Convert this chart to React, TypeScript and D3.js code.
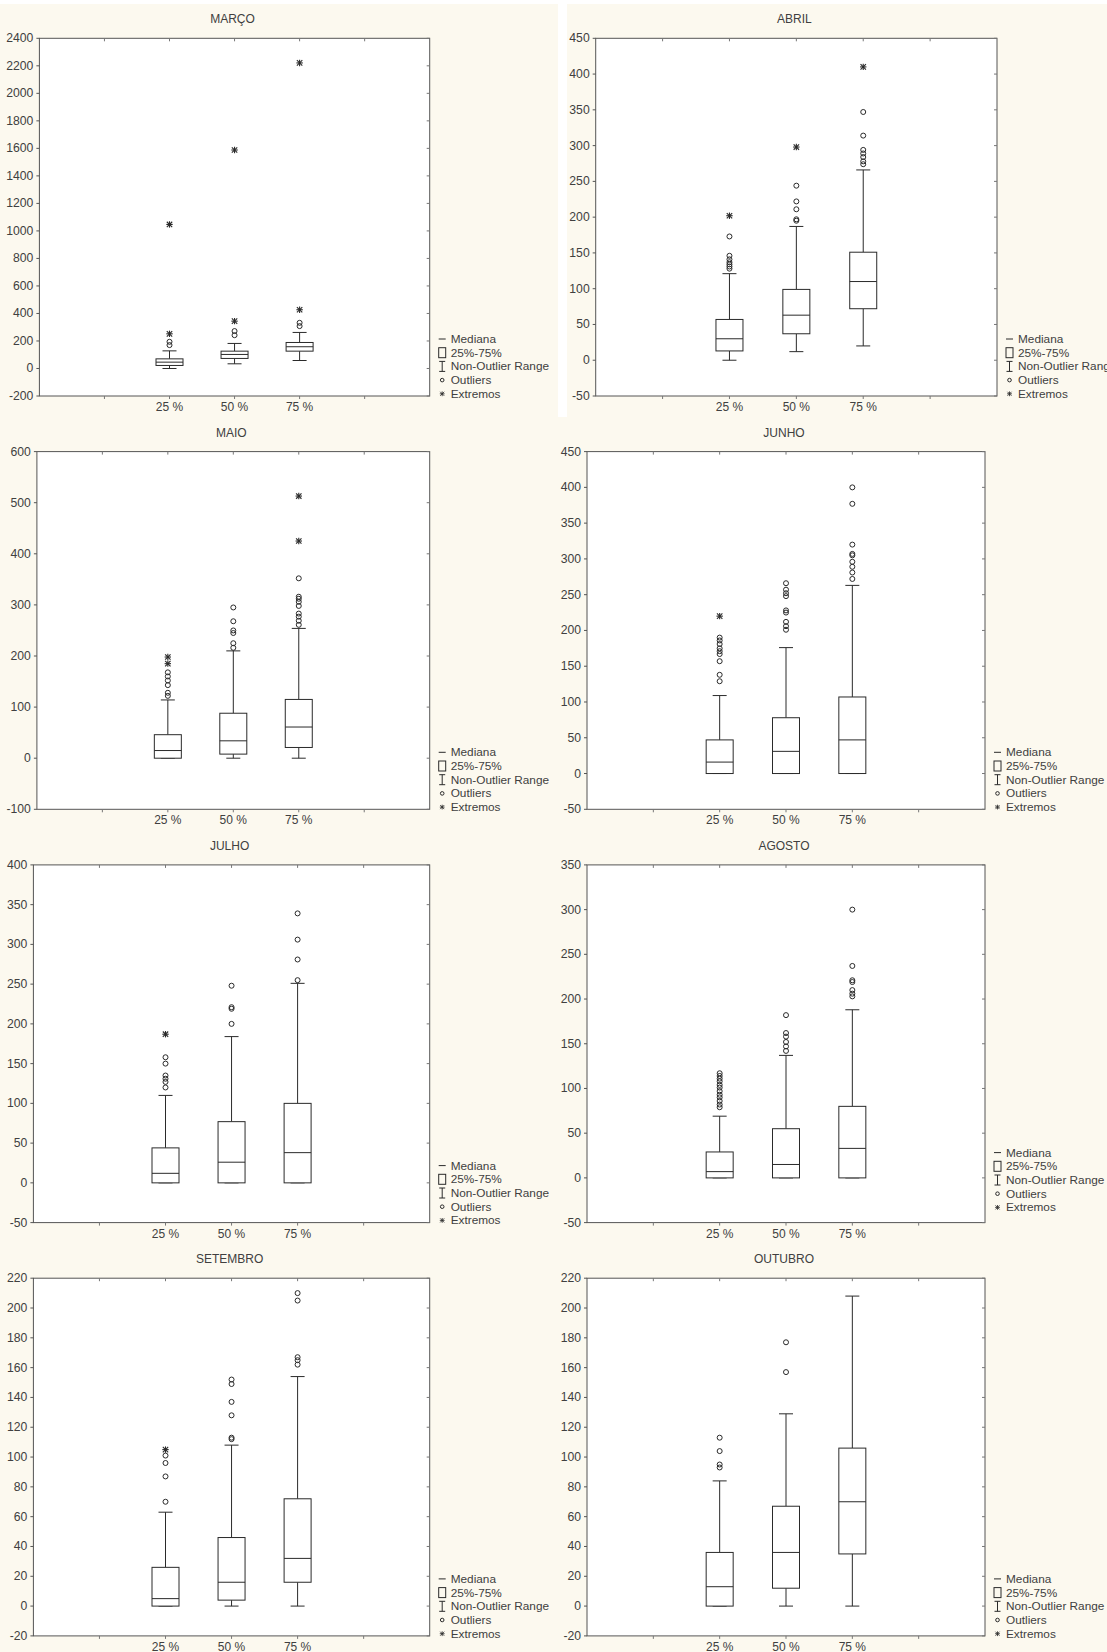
import React from "react";
import * as d3 from "d3";

// dados (um painel por mês)
const months = ["MARÇO", "ABRIL", "MAIO", "JUNHO", "JULHO", "AGOSTO", "SETEMBRO", "OUTUBRO"];
const categories = ["25 %", "50 %", "75 %"];
const yDomains = [[-200, 2400], [-50, 450], [-100, 600], [-50, 450], [-50, 400], [-50, 350], [-20, 220], [-20, 220]];
const yTickSteps = [200, 50, 100, 50, 50, 50, 20, 20];

const q1 = [[22, 73, 126], [13, 37, 72], [0, 8, 21], [0, 0, 0], [0, 0, 0], [0, 0, 0], [0, 4, 16], [0, 12, 35]];
const medians = [[46, 102, 158], [30, 63, 110], [15, 34, 61], [16, 31, 47], [12, 26, 38], [7, 15, 33], [5, 16, 32], [13, 36, 70]];
const q3 = [[70, 126, 189], [57, 99, 151], [46, 88, 115], [47, 78, 107], [44, 77, 100], [29, 55, 80], [26, 46, 72], [36, 67, 106]];
const whiskerLow = [[0, 34, 58], [0, 12, 20], [0, 0, 0], [0, 0, 0], [0, 0, 0], [0, 0, 0], [0, 0, 0], [0, 0, 0]];
const whiskerHigh = [[128, 182, 262], [121, 187, 266], [114, 210, 254], [109, 176, 263], [110, 184, 251], [69, 137, 188], [63, 108, 154], [84, 129, 208]];

const outliers = [
  [[170, 194], [242, 272], [308, 332]],
  [[128, 131, 134, 137, 141, 146, 173], [195, 197, 211, 222, 244], [274, 278, 284, 289, 294, 314, 347]],
  [[122, 128, 143, 152, 160, 168], [216, 225, 245, 250, 268, 295], [261, 269, 277, 283, 298, 306, 312, 316, 352]],
  [[129, 138, 157, 167, 171, 175, 181, 186, 190], [201, 206, 212, 225, 228, 248, 252, 257, 266], [272, 281, 289, 296, 305, 307, 320, 377, 400]],
  [[120, 127, 131, 135, 150, 158], [200, 219, 221, 248], [255, 281, 306, 339]],
  [[79, 82, 86, 90, 93, 97, 101, 104, 108, 111, 114, 117], [142, 147, 152, 158, 162, 182], [203, 206, 210, 219, 221, 237, 300]],
  [[70, 87, 96, 101], [112, 113, 128, 137, 149, 152], [162, 165, 167, 205, 210]],
  [[93, 95, 104, 113], [157, 177], []],
];
const extremes = [
  [[252, 1047], [344, 1588], [427, 2221]],
  [[202], [298], [410]],
  [[185, 198], [], [425, 513]],
  [[220], [], []],
  [[187], [], []],
  [[], [], []],
  [[105], [], []],
  [[], [], []],
];

const legendItems = ["Mediana", "25%-75%", "Non-Outlier Range", "Outliers", "Extremos"];

// layout
const W = 1107;
const H = 1652;
const rowStep = 413.3;
const plotTop0 = 38.3;
const plotH = 357.7;
const plotLeft = [39.4, 595.7, 36.9, 587, 33.4, 587, 33.4, 587];
const plotRight = [429.7, 997, 429.7, 985, 429.7, 985, 429.7, 985];
const legendTop = [339, 339, 339, 339, 339, 326, 339, 339];
const bg = "#fcf9ef";
const ink = "#2a2a2a";
const textCol = "#404040";
const font = "'Liberation Sans', Arial, sans-serif";

function Star({ x, y }: { x: number; y: number }) {
  const s = 2.7;
  return (
    <g stroke={ink} strokeWidth={1.1}>
      <line x1={x - s} y1={y - s} x2={x + s} y2={y + s} />
      <line x1={x - s} y1={y + s} x2={x + s} y2={y - s} />
      <line x1={x} y1={y - s - 0.5} x2={x} y2={y + s + 0.5} />
      <line x1={x - s - 0.5} y1={y} x2={x + s + 0.5} y2={y} />
    </g>
  );
}

function Panel({ i }: { i: number }) {
  const row = Math.floor(i / 2);
  const top = plotTop0 + row * rowStep;
  const bottom = top + plotH;
  const left = plotLeft[i];
  const right = plotRight[i];
  const [lo, hi] = yDomains[i];

  const y = d3.scaleLinear().domain([lo, hi]).range([bottom, top]);
  const x = d3.scaleLinear().domain([0, 6]).range([left, right]);
  const yTicks = d3.range(lo, hi + yTickSteps[i] / 2, yTickSteps[i]);
  const xTicks = d3.range(1, 6);
  const boxW = 27;
  const capW = 7;

  const ly = row * rowStep + legendTop[i];
  const lx = right + 9;
  const lh = 13.7;

  return (
    <g>
      <rect x={left} y={top} width={right - left} height={plotH} fill="#fff" stroke="#555" strokeWidth={1} />
      <text x={(left + right) / 2 - 2} y={top - 15} textAnchor="middle" fontSize={12} fill={textCol} fontFamily={font}>
        {months[i]}
      </text>
      {yTicks.map((t) => (
        <g key={t}>
          <line x1={left - 3} x2={left} y1={y(t)} y2={y(t)} stroke="#555" />
          <line x1={right - 3} x2={right} y1={y(t)} y2={y(t)} stroke="#777" />
          <text x={left - 6} y={y(t) + 4} textAnchor="end" fontSize={12.2} fill={textCol} fontFamily={font}>
            {t}
          </text>
        </g>
      ))}
      {xTicks.map((t) => (
        <g key={t}>
          <line x1={x(t)} x2={x(t)} y1={top} y2={top + 3} stroke="#777" />
          <line x1={x(t)} x2={x(t)} y1={bottom} y2={bottom + 3} stroke="#777" />
        </g>
      ))}
      {categories.map((c, j) => {
        const cx = x(j + 2);
        return (
          <g key={c}>
            <text x={cx} y={bottom + 15} textAnchor="middle" fontSize={12} fill={textCol} fontFamily={font}>
              {c}
            </text>
            <g stroke={ink} strokeWidth={1} fill="none">
              <line x1={cx} x2={cx} y1={y(q3[i][j])} y2={y(whiskerHigh[i][j])} />
              <line x1={cx - capW} x2={cx + capW} y1={y(whiskerHigh[i][j])} y2={y(whiskerHigh[i][j])} />
              <line x1={cx} x2={cx} y1={y(q1[i][j])} y2={y(whiskerLow[i][j])} />
              <line x1={cx - capW} x2={cx + capW} y1={y(whiskerLow[i][j])} y2={y(whiskerLow[i][j])} />
              <rect x={cx - boxW / 2} y={y(q3[i][j])} width={boxW} height={y(q1[i][j]) - y(q3[i][j])} fill="#fff" />
              <line x1={cx - boxW / 2} x2={cx + boxW / 2} y1={y(medians[i][j])} y2={y(medians[i][j])} />
              {outliers[i][j].map((v, k) => (
                <circle key={k} cx={cx} cy={y(v)} r={2.5} />
              ))}
            </g>
            {extremes[i][j].map((v, k) => (
              <Star key={k} x={cx} y={y(v)} />
            ))}
          </g>
        );
      })}
      {/* legenda */}
      <g stroke={ink} strokeWidth={1} fill="none">
        <line x1={lx} x2={lx + 7} y1={ly} y2={ly} />
        <rect x={lx} y={ly + lh - 5} width={7} height={10} />
        <line x1={lx + 3.5} x2={lx + 3.5} y1={ly + 2 * lh - 5} y2={ly + 2 * lh + 5} />
        <line x1={lx + 0.5} x2={lx + 6.5} y1={ly + 2 * lh - 5} y2={ly + 2 * lh - 5} />
        <line x1={lx + 0.5} x2={lx + 6.5} y1={ly + 2 * lh + 5} y2={ly + 2 * lh + 5} />
        <circle cx={lx + 3.5} cy={ly + 3 * lh} r={1.8} />
      </g>
      <g transform={`translate(${lx + 3.5},${ly + 4 * lh}) scale(0.75)`}>
        <Star x={0} y={0} />
      </g>
      {legendItems.map((t, k) => (
        <text key={t} x={lx + 12} y={ly + k * lh + 4} fontSize={11.8} fill={textCol} fontFamily={font}>
          {t}
        </text>
      ))}
    </g>
  );
}

export default function App() {
  return (
    <svg width={W} height={H} style={{ position: "absolute", left: 0, top: 0 }}>
      <rect x={0} y={0} width={W} height={H} fill={bg} />
      <rect x={0} y={0} width={W} height={4} fill="#fff" />
      <rect x={558} y={4} width={9} height={413} fill="#fff" />
      {months.map((m, i) => (
        <Panel key={m} i={i} />
      ))}
    </svg>
  );
}
